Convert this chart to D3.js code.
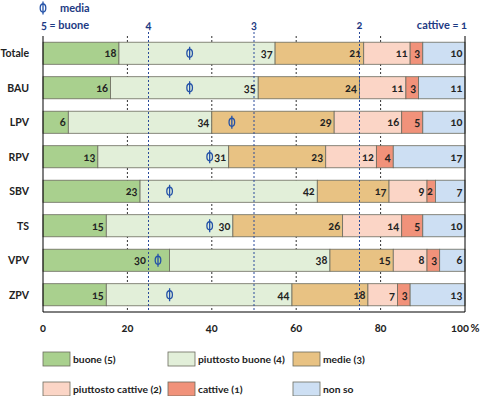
<!DOCTYPE html>
<html><head><meta charset="utf-8">
<script src="https://cdn.jsdelivr.net/npm/d3@7"></script>
<style>body{margin:0;background:#fff}svg{display:block}text{font-family:Lato,sans-serif;font-variant-numeric:oldstyle-nums}</style>
</head><body>
<svg id="c" width="480" height="396"></svg>
<script>
const rows = ["Totale","BAU","LPV","RPV","SBV","TS","VPV","ZPV"];
const seriesNames = ["buone (5)","piuttosto buone (4)","medie (3)","piuttosto cattive (2)","cattive (1)","non so"];
const buone          = [18,16,6,13,23,15,30,15];
const piuttostoBuone = [37,35,34,31,42,30,38,44];
const medie          = [21,24,29,23,17,26,15,18];
const piuttostoCatt  = [11,11,16,12,9,14,8,7];
const cattive        = [3,3,5,4,2,5,3,3];
const nonSo          = [10,11,10,17,7,10,6,13];
const media          = [3.61,3.61,3.21,3.42,3.80,3.42,3.91,3.80];
const xTicks = [0,20,40,60,80,100];
const scoreTicks = [4,3,2];
const colors = ["#a9d08e","#e2efd9","#e8c283","#fbd5c6","#f1927a","#cddff3"];

const series = [buone,piuttostoBuone,medie,piuttostoCatt,cattive,nonSo];
const svg = d3.select("#c");
const x = d3.scaleLinear().domain([0,100]).range([43,465]);
const xs = d3.scaleLinear().domain([5,1]).range([43,465]);
const y = d3.scaleBand().domain(rows).range([36,312]).paddingInner(0.36).paddingOuter(0.18);
const navy = "#1d3a84";
const phiCol = "#2452a8";
const FS = 11;

function phi(g, cx, cy){
  g.append("ellipse").attr("cx",cx).attr("cy",cy).attr("rx",2.8).attr("ry",4)
    .attr("fill","none").attr("stroke",phiCol).attr("stroke-width",1.3);
  g.append("line").attr("x1",cx).attr("x2",cx).attr("y1",cy-6.5).attr("y2",cy+6.5)
    .attr("stroke",phiCol).attr("stroke-width",1.3);
}

// black dotted gridlines (behind bars)
svg.append("g").selectAll("line").data(xTicks.filter(d=>d>0&&d<100)).join("line")
  .attr("x1",d=>x(d)).attr("x2",d=>x(d)).attr("y1",36).attr("y2",312)
  .attr("stroke","#333").attr("stroke-width",1).attr("stroke-dasharray","2,2");

// stacked bars
const stacked = rows.map((r,i)=>{let acc=0;return series.map((s,k)=>{const v=s[i];const o={row:r,i,k,v,x0:acc,x1:acc+v};acc+=v;return o;});});
const gb = svg.append("g");
stacked.forEach(segs=>{
  gb.selectAll(null).data(segs).join("rect")
    .attr("x",d=>x(d.x0)).attr("width",d=>x(d.x1)-x(d.x0))
    .attr("y",d=>y(d.row)).attr("height",y.bandwidth())
    .attr("fill",d=>colors[d.k]).attr("stroke","#6b6b5e").attr("stroke-width",0.8);
  gb.selectAll(null).data(segs).join("text")
    .attr("x",d=>{
      let px = x(d.x1)-2.5;
      const m = xs(media[d.i]);
      // keep the label clear of the media symbol
      if (m >= px-12 && m <= px+2) px = m-12;
      return px;
    })
    .attr("y",d=>y(d.row)+y.bandwidth()/2).attr("dy","0.36em")
    .attr("text-anchor","end").attr("font-size",FS).attr("font-weight",700).attr("fill","#222")
    .text(d=>d.v);
});

// blue dotted lines
svg.append("g").selectAll("line").data(scoreTicks).join("line")
  .attr("x1",d=>xs(d)).attr("x2",d=>xs(d)).attr("y1",32).attr("y2",312)
  .attr("stroke","#2a4a9a").attr("stroke-width",1).attr("stroke-dasharray","2,2");

// media symbols
const gm = svg.append("g");
rows.forEach((r,i)=>phi(gm, xs(media[i]), y(r)+y.bandwidth()/2));

// frame
svg.append("line").attr("x1",x(0)).attr("x2",x(0)).attr("y1",36).attr("y2",312).attr("stroke","#000");
svg.append("line").attr("x1",x(100)).attr("x2",x(100)).attr("y1",36).attr("y2",312).attr("stroke","#000");
svg.append("line").attr("x1",x(0)).attr("x2",x(100)).attr("y1",312).attr("y2",312).attr("stroke","#000");

// row labels
svg.append("g").selectAll("text").data(rows).join("text")
  .attr("x",29).attr("y",d=>y(d)+y.bandwidth()/2).attr("dy","0.36em")
  .attr("text-anchor","end").attr("font-size",10.5).attr("font-weight",700).attr("fill","#222").text(d=>d);

// x tick labels
svg.append("g").selectAll("text").data(xTicks).join("text")
  .attr("x",d=>x(d)+(d===100?-5:0)).attr("y",328).attr("dy","0.36em")
  .attr("text-anchor","middle").attr("font-size",FS).attr("font-weight",700).attr("fill","#222")
  .text(d=>d);
svg.append("text").attr("x",x(100)+5.5).attr("y",328).attr("dy","0.36em").attr("font-size",FS)
  .attr("font-weight",700).attr("fill","#222").text("%");

// top scale labels
phi(svg.append("g"), 43, 8);
svg.append("text").attr("x",60).attr("y",8).attr("dy","0.36em").attr("font-size",FS)
  .attr("font-weight",700).attr("fill",navy).text("media");
svg.append("text").attr("x",41).attr("y",25).attr("dy","0.36em").attr("font-size",FS)
  .attr("font-weight",700).attr("fill",navy).text("5 = buone");
svg.append("g").selectAll("text").data(scoreTicks).join("text")
  .attr("x",d=>xs(d)).attr("y",25).attr("dy","0.36em").attr("text-anchor","middle")
  .attr("font-size",FS).attr("font-weight",700).attr("fill",navy).text(d=>d);
svg.append("text").attr("x",467).attr("y",25).attr("dy","0.36em").attr("text-anchor","end")
  .attr("font-size",FS).attr("font-weight",700).attr("fill",navy).text("cattive = 1");

// legend
const legPos = [[43,359],[168,359],[293,359],[43,389],[168,389],[293,389]];
const lg = svg.append("g").selectAll("g").data(seriesNames).join("g")
  .attr("transform",(d,i)=>`translate(${legPos[i][0]},${legPos[i][1]})`);
lg.append("rect").attr("x",0).attr("y",-7).attr("width",27).attr("height",14)
  .attr("fill",(d,i)=>colors[i]).attr("stroke","#6b6b5e").attr("stroke-width",0.8);
lg.append("text").attr("x",30).attr("y",0).attr("dy","0.36em").attr("font-size",10.3)
  .attr("font-weight",700).attr("fill","#222").text(d=>d);
</script>
</body></html>
